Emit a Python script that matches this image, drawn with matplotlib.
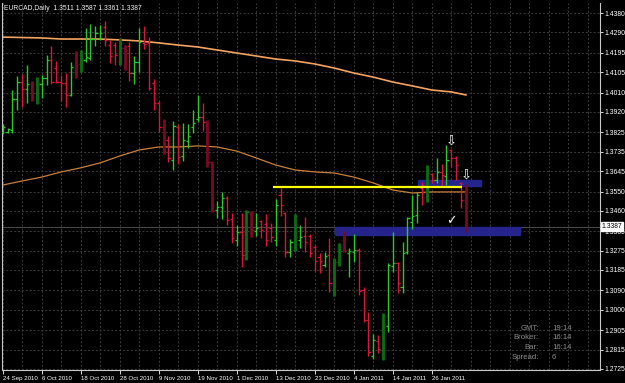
import matplotlib.pyplot as plt
from matplotlib.patches import Rectangle
from matplotlib.transforms import blended_transform_factory

# EURCAD daily bars (index 0 = 24 Sep 2010)
opens = [1.3827, 1.3827, 1.3836, 1.3980, 1.4059, 1.4027, 1.4050, 1.4008, 1.4050, 1.4078,
         1.4162, 1.4124, 1.4059, 1.4055, 1.3999, 1.4171, 1.4143, 1.4162, 1.4171, 1.4259,
         1.4264, 1.4315, 1.4231, 1.4231, 1.4152, 1.4217, 1.4227, 1.4101, 1.4152, 1.4241,
         1.4241, 1.4055, 1.3962, 1.3850, 1.3790, 1.3697, 1.3850, 1.3715, 1.3785, 1.3850,
         1.3887, 1.3896, 1.3873, 1.3687, 1.3464, 1.3478, 1.3520, 1.3422, 1.3325, 1.3362,
         1.3255, 1.3445, 1.3366, 1.3413, 1.3399, 1.3380, 1.3325, 1.3534, 1.3450, 1.3269,
         1.3278, 1.3325, 1.3343, 1.3343, 1.3292, 1.3245, 1.3208, 1.3255, 1.3092, 1.3222,
         1.3325, 1.3264, 1.3269, 1.3278, 1.3092, 1.2953, 1.2785, 1.2855, 1.2813, 1.2925,
         1.3204, 1.3218, 1.3106, 1.3269, 1.3408, 1.3441, 1.3566, 1.3548, 1.3631, 1.3604,
         1.3641, 1.3622, 1.3743, 1.3706, 1.3590, 1.3511]
highs = [1.3864, 1.3845, 1.4022, 1.4087, 1.4096, 1.4138, 1.4064, 1.4082, 1.4092, 1.4185,
         1.4227, 1.4157, 1.4092, 1.4101, 1.4152, 1.4203, 1.4208, 1.4310, 1.4329, 1.4320,
         1.4324, 1.4343, 1.4255, 1.4245, 1.4264, 1.4231, 1.4245, 1.4180, 1.4310, 1.4320,
         1.4268, 1.4073, 1.3971, 1.3887, 1.3808, 1.3878, 1.3864, 1.3869, 1.3864, 1.3929,
         1.3999, 1.3962, 1.3883, 1.3692, 1.3506, 1.3548, 1.3529, 1.3450, 1.3394, 1.3450,
         1.3464, 1.3459, 1.3450, 1.3418, 1.3445, 1.3404, 1.3515, 1.3566, 1.3455, 1.3329,
         1.3445, 1.3394, 1.3431, 1.3352, 1.3301, 1.3264, 1.3269, 1.3334, 1.3241, 1.3311,
         1.3366, 1.3287, 1.3352, 1.3287, 1.3106, 1.2990, 1.2887, 1.2883, 1.2985, 1.3218,
         1.3362, 1.3222, 1.3315, 1.3431, 1.3534, 1.3548, 1.3594, 1.3673, 1.3636, 1.3706,
         1.3678, 1.3766, 1.3748, 1.3715, 1.3594, 1.3587]
lows = [1.3817, 1.3822, 1.3822, 1.3929, 1.3943, 1.3962, 1.3971, 1.3957, 1.3985, 1.4045,
        1.4050, 1.4055, 1.3971, 1.3943, 1.3994, 1.4078, 1.4106, 1.4152, 1.4162, 1.4227,
        1.4255, 1.4227, 1.4148, 1.4138, 1.4138, 1.4115, 1.4064, 1.4050, 1.4106, 1.4213,
        1.4022, 1.3929, 1.3827, 1.3724, 1.3687, 1.3650, 1.3678, 1.3692, 1.3752, 1.3822,
        1.3873, 1.3831, 1.3664, 1.3455, 1.3427, 1.3422, 1.3394, 1.3311, 1.3297, 1.3199,
        1.3232, 1.3338, 1.3343, 1.3334, 1.3297, 1.3315, 1.3297, 1.3436, 1.3245, 1.3245,
        1.3273, 1.3287, 1.3269, 1.3245, 1.3180, 1.3171, 1.3199, 1.3083, 1.3064, 1.3204,
        1.3269, 1.3152, 1.3222, 1.3069, 1.2943, 1.2785, 1.2771, 1.2799, 1.2767, 1.2897,
        1.3176, 1.3078, 1.3078, 1.3259, 1.3376, 1.3404, 1.3487, 1.3501, 1.3590, 1.3590,
        1.3580, 1.3580, 1.3664, 1.3604, 1.3473, 1.3361]
closes = [1.3850, 1.3841, 1.3980, 1.4059, 1.4027, 1.4050, 1.4008, 1.4055, 1.4078, 1.4162,
          1.4059, 1.4059, 1.4055, 1.3999, 1.4129, 1.4138, 1.4171, 1.4175, 1.4259, 1.4287,
          1.4287, 1.4255, 1.4180, 1.4185, 1.4217, 1.4208, 1.4101, 1.4152, 1.4245, 1.4236,
          1.4031, 1.3962, 1.3850, 1.3790, 1.3706, 1.3855, 1.3710, 1.3790, 1.3808, 1.3869,
          1.3896, 1.3873, 1.3687, 1.3459, 1.3478, 1.3520, 1.3418, 1.3334, 1.3362, 1.3255,
          1.3455, 1.3371, 1.3380, 1.3371, 1.3325, 1.3338, 1.3487, 1.3487, 1.3269, 1.3315,
          1.3436, 1.3338, 1.3315, 1.3264, 1.3227, 1.3227, 1.3250, 1.3125, 1.3222, 1.3283,
          1.3278, 1.3273, 1.3278, 1.3087, 1.2953, 1.2804, 1.2860, 1.2818, 1.2934, 1.3208,
          1.3218, 1.3125, 1.3264, 1.3427, 1.3436, 1.3534, 1.3548, 1.3636, 1.3604, 1.3641,
          1.3627, 1.3697, 1.3706, 1.3673, 1.3511, 1.3387]
# bars drawn with the wide dark colour
dark_bars = [6, 7, 15, 16, 24, 25, 33, 42, 43, 50, 51, 60, 68, 69, 70, 78, 87, 95]

# moving averages, sampled every 4 bars
ma_idx = [0, 4, 8, 12, 16, 20, 24, 28, 32, 36, 40, 44, 48, 52, 56, 60, 64, 68, 72, 76,
          80, 84, 88, 92, 95]
ma_slow = [1.4268, 1.4266, 1.4264, 1.4259, 1.4259, 1.4259, 1.4255, 1.4250, 1.4241, 1.4231,
           1.4222, 1.4208, 1.4194, 1.4180, 1.4166, 1.4157, 1.4143, 1.4124, 1.4101, 1.4082,
           1.4059, 1.4041, 1.4022, 1.4013, 1.3999]
ma_fast = [1.3580, 1.3599, 1.3617, 1.3641, 1.3660, 1.3683, 1.3715, 1.3743, 1.3757, 1.3757,
           1.3762, 1.3757, 1.3738, 1.3706, 1.3673, 1.3650, 1.3641, 1.3636, 1.3617, 1.3590,
           1.3557, 1.3543, 1.3548, 1.3548, 1.3548]

date_idx = [0, 8, 16, 24, 32, 40, 48, 56, 64, 72, 80, 88]
date_labels = ['24 Sep 2010', '6 Oct 2010', '18 Oct 2010', '28 Oct 2010', '9 Nov 2010',
               '19 Nov 2010', '1 Dec 2010', '13 Dec 2010', '23 Dec 2010', '4 Jan 2011',
               '14 Jan 2011', '26 Jan 2011']
price_ticks = [1.4380, 1.4290, 1.4195, 1.4105, 1.4010, 1.3920, 1.3825, 1.3735, 1.3645,
               1.3550, 1.3460, 1.3365, 1.3275, 1.3185, 1.3090, 1.3000, 1.2905, 1.2815, 1.2725]

title_text = 'EURCAD,Daily  1.3511 1.3587 1.3361 1.3387'
bid = 1.3387
level = 1.3573           # yellow line
level_from, level_to = 55.4, 94.3
zones = [(85.2, 98.1, 1.3576, 1.3604), (68.2, 106.1, 1.3348, 1.3385)]
info_names = ['GMT:', 'Broker:', 'Bar:', 'Spread:']
info_vals = ['19:14', '16:14', '16:14', '6']

plt.rcParams['font.family'] = ['Liberation Sans', 'DejaVu Sans']

green, red = '#2ac82a', '#dc143c'
dgreen, dred = '#0a6e14', '#7a0a24'

fig = plt.figure(figsize=(6.25, 3.83), dpi=100, facecolor='black')
ax = fig.add_axes([2 / 625, 13 / 383, 598 / 625, 367 / 383])
ax.set_facecolor('black')
ax.set_xlim(-0.14, 122.5)
ax.set_ylim(1.2720, 1.44265)

# grid
ax.set_xticks(date_idx)
ax.set_xticklabels(date_labels, ha='left')
ax.set_xticks(range(0, 124, 4), minor=True)
ax.set_yticks(price_ticks)
ax.set_yticklabels([f'{p:.4f}' for p in price_ticks])
ax.grid(which='both', color='#3c3c3c', linestyle=(0, (2, 2)), linewidth=0.7)
ax.set_axisbelow(True)
ax.yaxis.tick_right()
ax.tick_params(axis='y', colors='white', labelsize=4.9, length=2, width=0.6, pad=1.5)
ax.tick_params(axis='x', colors='white', labelsize=4.4, length=3, width=0.6, pad=1)
ax.tick_params(axis='x', which='minor', length=0)
for s in ['left', 'right', 'bottom']:
    ax.spines[s].set_color('#c8c8c8')
    ax.spines[s].set_linewidth(0.8)
ax.spines['top'].set_visible(False)

ax.axhline(bid, color='#4a4a4a', lw=0.7, zorder=1)
for x0, x1, y0, y1 in zones:
    ax.add_patch(Rectangle((x0, y0), x1 - x0, y1 - y0, color='#24248c', zorder=1.5))

ax.plot(ma_idx, ma_slow, color='#f4a460', lw=1.2, zorder=2)
ax.plot(ma_idx, ma_fast, color='#c8803c', lw=0.9, zorder=2)

for i in range(len(opens)):
    up = closes[i] >= opens[i]
    if i in dark_bars:
        col, lw = (dgreen if up else dred), 2.0
    else:
        col, lw = (green if up else red), 1.0
    ax.vlines(i, lows[i], highs[i], color=col, lw=lw, zorder=3)
    ax.hlines(opens[i], i - 0.45, i, color=col, lw=0.9, zorder=3)
    ax.hlines(closes[i], i, i + 0.45, color=col, lw=0.9, zorder=3)

ax.hlines(level, level_from, level_to, color='#ffff00', lw=1.6, zorder=4)

ax.text(92.0, 1.3776, '\u21e9', color='white', fontsize=9.5, ha='center', va='center', zorder=5)
ax.text(95.0, 1.3617, '\u21e9', color='white', fontsize=9.5, ha='center', va='center', zorder=5)
ax.text(92.1, 1.3413, '\u2713', color='white', fontsize=9, fontweight='bold',
        ha='center', va='center', zorder=5)

tr = blended_transform_factory(ax.transAxes, ax.transData)
ax.text(1.003, bid, f'{bid:.4f}', transform=tr, fontsize=4.9, color='black', va='center',
        ha='left', bbox=dict(facecolor='white', edgecolor='white', pad=0.6), zorder=6,
        clip_on=False)

fig.text(4 / 625, 1 - 8 / 383, title_text, color='#f0f0f0', fontsize=4.9, va='center')
for k, (n, v) in enumerate(zip(info_names, info_vals)):
    yy = 1 - (328 + 9.7 * k) / 383
    fig.text(539 / 625, yy, n, color='#8c8c8c', fontsize=5.6, ha='right', va='center')
    fig.text(552 / 625, yy, v, color='#8c8c8c', fontsize=5.6, ha='left', va='center')

fig.savefig('out.png', dpi=100, facecolor='black')
